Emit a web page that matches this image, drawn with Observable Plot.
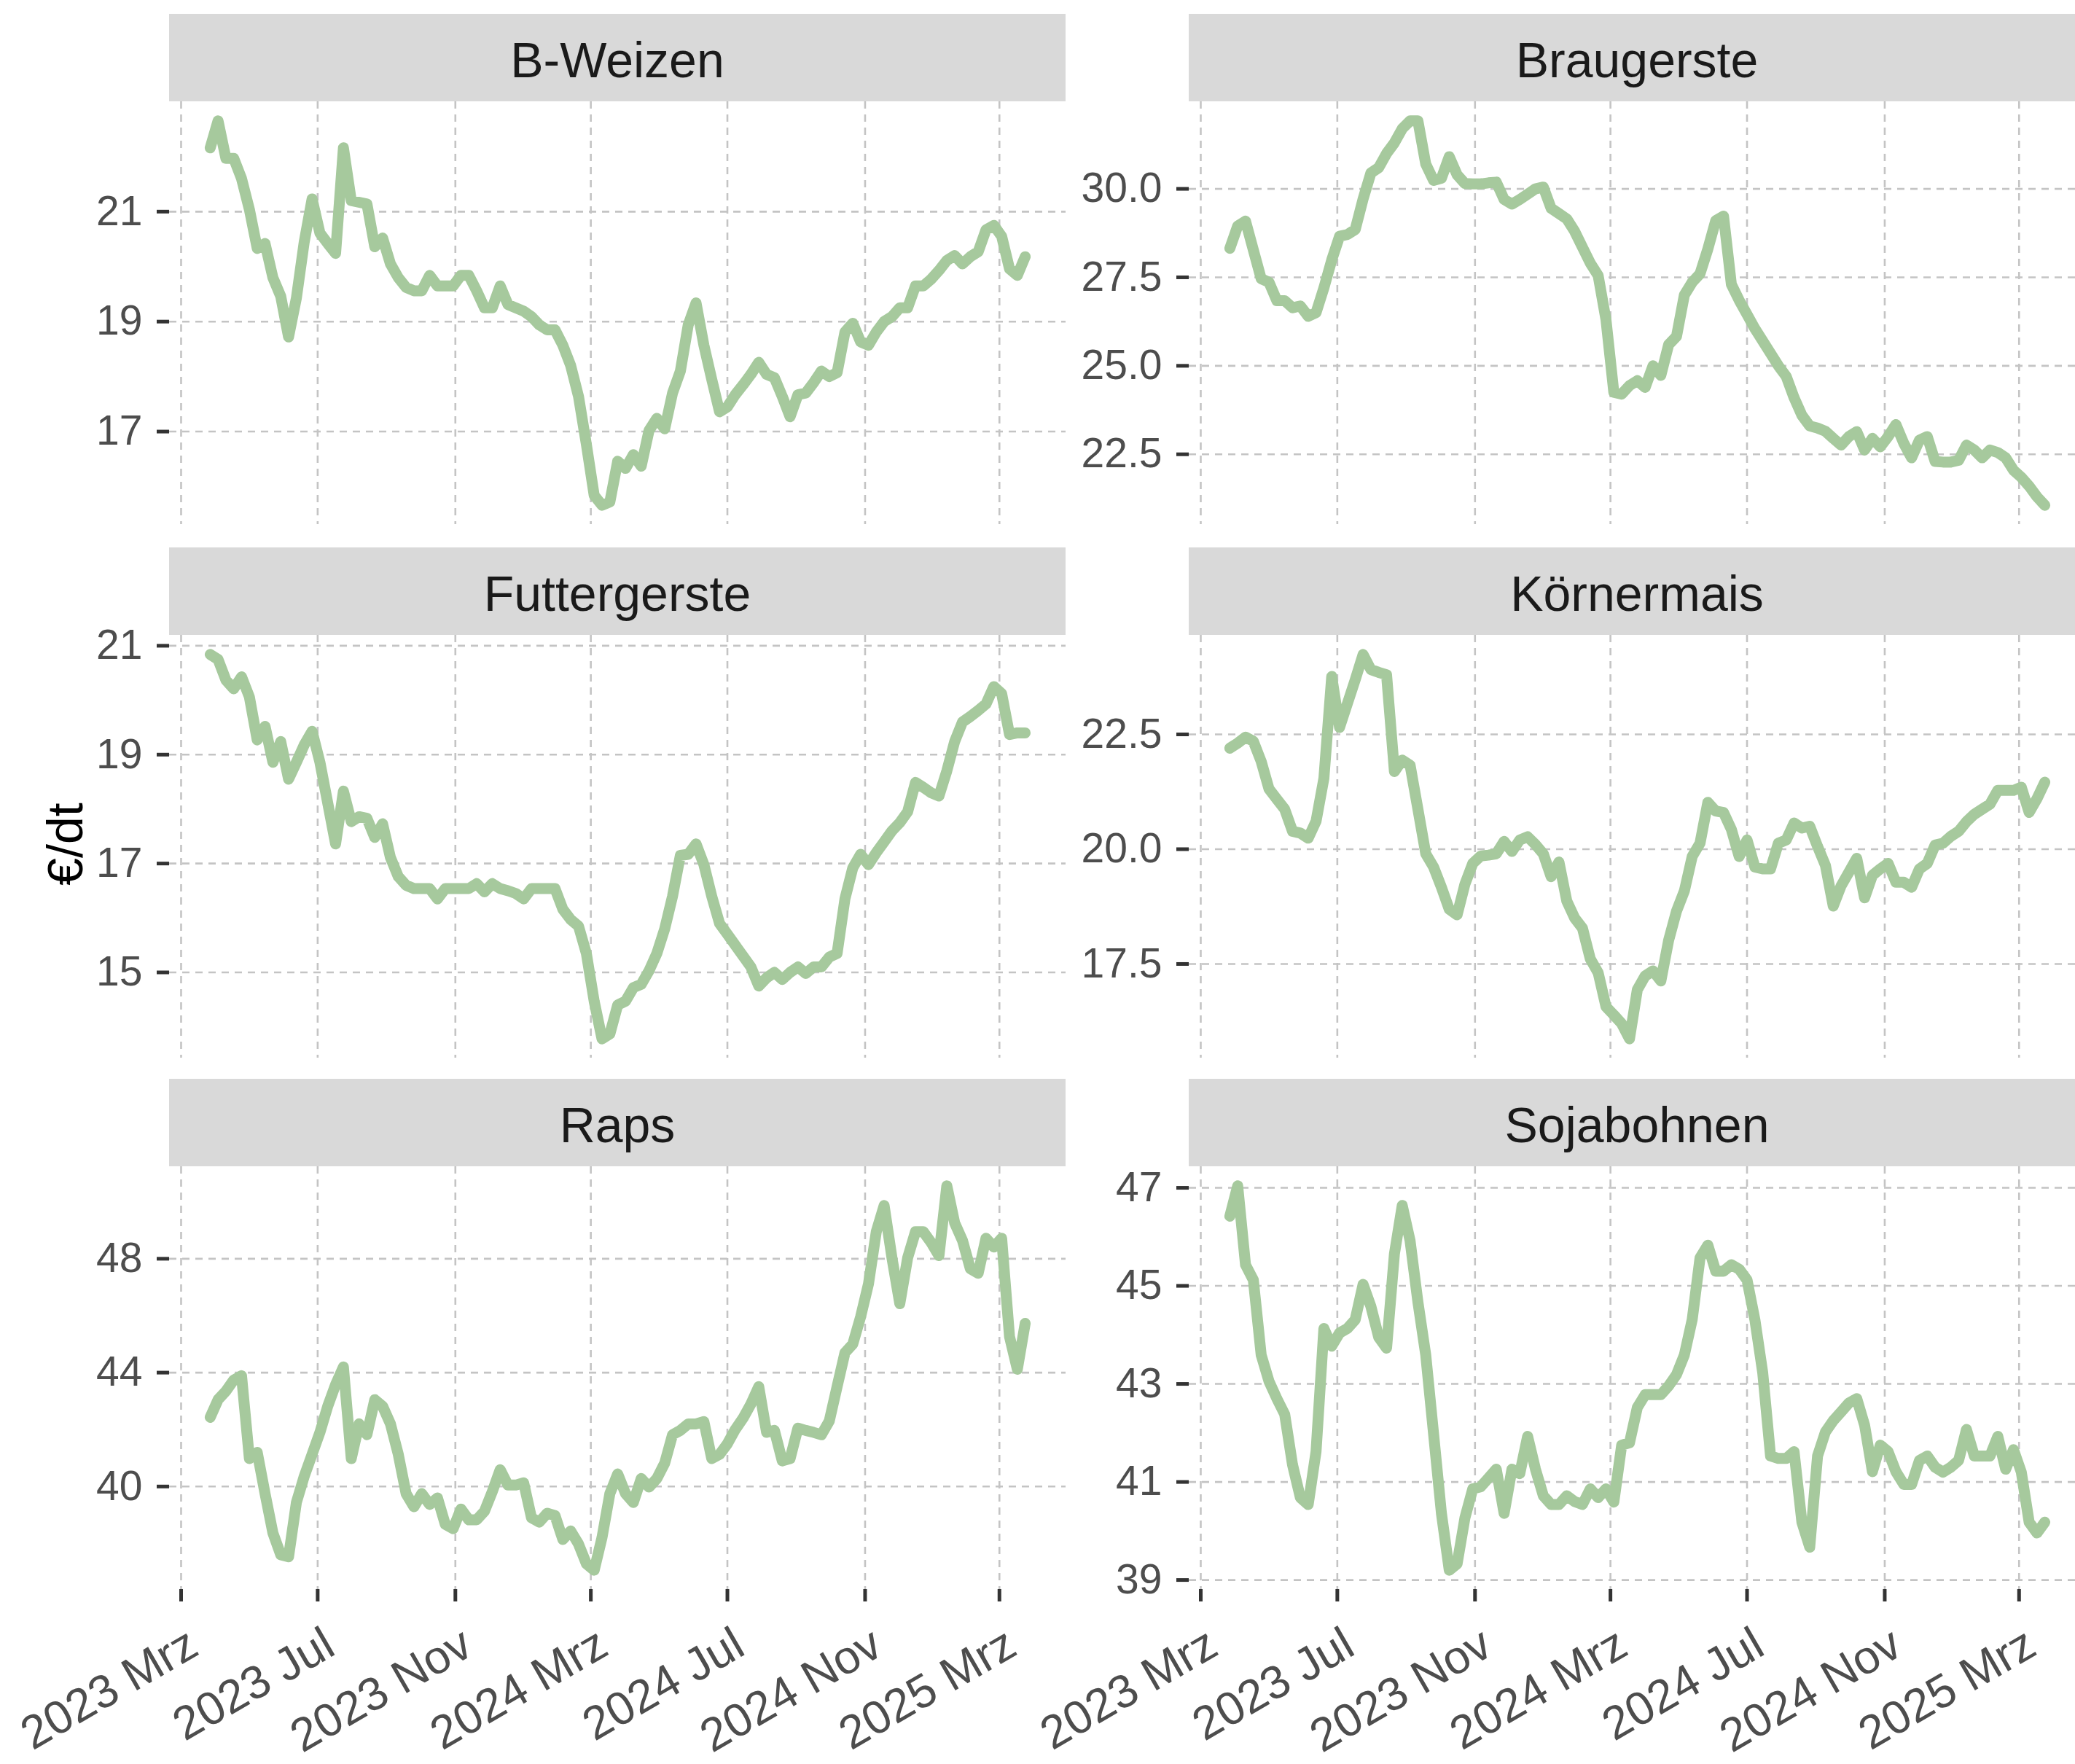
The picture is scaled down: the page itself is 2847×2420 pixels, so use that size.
<!DOCTYPE html>
<html>
<head>
<meta charset="utf-8">
<script src="https://cdn.jsdelivr.net/npm/d3@7"></script>
<script src="https://cdn.jsdelivr.net/npm/@observablehq/plot@0.6"></script>
<style>
  html, body { margin: 0; padding: 0; background: #ffffff; width: 2847px; height: 2420px; overflow: hidden; }
  #root { position: relative; width: 2847px; height: 2420px; font-family: "Liberation Sans", Arial, sans-serif; }
  .strip { position: absolute; background: #d9d9d9; color: #1a1a1a; font-size: 68px;
           display: flex; align-items: center; justify-content: center; padding-top: 6px; box-sizing: border-box; }
  .panel { position: absolute; }
  .panel svg { overflow: visible; max-width: none; display: block; }
  #ylab { position: absolute; font-size: 68px; color: #000; white-space: nowrap;
          transform: translate(-50%, -50%) rotate(-90deg); }
</style>
</head>
<body>
<div id="root"></div>
<script>
// ---- Data (weekly quotations, €/dt) ----
const weeks = [
  "2023-03-27","2023-04-03","2023-04-10","2023-04-17","2023-04-24","2023-05-01","2023-05-08","2023-05-15","2023-05-22","2023-05-29",
  "2023-06-05","2023-06-12","2023-06-19","2023-06-26","2023-07-03","2023-07-10","2023-07-17","2023-07-24","2023-07-31","2023-08-07",
  "2023-08-14","2023-08-21","2023-08-28","2023-09-04","2023-09-11","2023-09-18","2023-09-25","2023-10-02","2023-10-09","2023-10-16",
  "2023-10-23","2023-10-30","2023-11-06","2023-11-13","2023-11-20","2023-11-27","2023-12-04","2023-12-11","2023-12-18","2023-12-25",
  "2024-01-01","2024-01-08","2024-01-15","2024-01-22","2024-01-29","2024-02-05","2024-02-12","2024-02-19","2024-02-26","2024-03-04",
  "2024-03-11","2024-03-18","2024-03-25","2024-04-01","2024-04-08","2024-04-15","2024-04-22","2024-04-29","2024-05-06","2024-05-13",
  "2024-05-20","2024-05-27","2024-06-03","2024-06-10","2024-06-17","2024-06-24","2024-07-01","2024-07-08","2024-07-15","2024-07-22",
  "2024-07-29","2024-08-05","2024-08-12","2024-08-19","2024-08-26","2024-09-02","2024-09-09","2024-09-16","2024-09-23","2024-09-30",
  "2024-10-07","2024-10-14","2024-10-21","2024-10-28","2024-11-04","2024-11-11","2024-11-18","2024-11-25","2024-12-02","2024-12-09",
  "2024-12-16","2024-12-23","2024-12-30","2025-01-06","2025-01-13","2025-01-20","2025-01-27","2025-02-03","2025-02-10","2025-02-17",
  "2025-02-24","2025-03-03","2025-03-10","2025-03-17","2025-03-24"
];

const bWeizen = [
  22.16, 22.65, 21.97, 21.97, 21.6, 21.04, 20.33, 20.42, 19.8, 19.46,
  18.72, 19.43, 20.45, 21.23, 20.61, 20.42, 20.24, 22.16, 21.2, 21.17,
  21.14, 20.36, 20.52, 20.05, 19.8, 19.62, 19.56, 19.56, 19.84, 19.65,
  19.65, 19.65, 19.84, 19.84, 19.56, 19.25, 19.25, 19.65, 19.31, 19.25,
  19.19, 19.09, 18.94, 18.85, 18.85, 18.57, 18.2, 17.64, 16.77, 15.84,
  15.66, 15.72, 16.46, 16.33, 16.58, 16.37, 17.02, 17.24, 17.05, 17.7,
  18.1, 18.94, 19.34, 18.57, 17.95, 17.36, 17.45, 17.67, 17.85, 18.04,
  18.26, 18.04, 17.98, 17.64, 17.27, 17.67, 17.7, 17.89, 18.1, 18.0,
  18.07, 18.81, 18.97, 18.63, 18.57, 18.81, 19.0, 19.09, 19.25, 19.25,
  19.65, 19.65, 19.77, 19.93, 20.11, 20.2, 20.05, 20.18, 20.27, 20.67,
  20.75, 20.55, 19.96, 19.84, 20.18
];

const braugerste = [
  28.32, 28.95, 29.09, 28.27, 27.46, 27.36, 26.84, 26.84, 26.64, 26.69,
  26.4, 26.5, 27.2, 27.99, 28.66, 28.71, 28.85, 29.71, 30.45, 30.6,
  31.0, 31.3, 31.7, 31.92, 31.92, 30.7, 30.24, 30.3, 30.91, 30.4,
  30.15, 30.14, 30.14, 30.17, 30.19, 29.7, 29.57, 29.7, 29.85, 30.0,
  30.05, 29.45, 29.3, 29.15, 28.8, 28.35, 27.9, 27.55, 26.3, 24.25,
  24.2, 24.44, 24.58, 24.39, 25.0, 24.73, 25.6, 25.83, 27.0, 27.36,
  27.6, 28.3, 29.1, 29.23, 27.3, 26.85, 26.45, 26.05, 25.7, 25.35,
  25.0, 24.7, 24.1, 23.6, 23.3, 23.24, 23.15, 22.95, 22.76, 23.0,
  23.14, 22.62, 22.95, 22.71, 23.0, 23.34, 22.81, 22.4, 22.9, 23.0,
  22.3, 22.28, 22.28, 22.33, 22.76, 22.62, 22.4, 22.62, 22.55, 22.4,
  22.05, 21.85, 21.6, 21.3, 21.06
];

const futtergerste = [
  20.84, 20.75, 20.37, 20.21, 20.43, 20.06, 19.27, 19.52, 18.86, 19.24,
  18.55, 18.86, 19.18, 19.43, 18.86, 18.11, 17.36, 18.33, 17.77, 17.86,
  17.83, 17.48, 17.73, 17.11, 16.76, 16.6, 16.54, 16.54, 16.54, 16.35,
  16.54, 16.54, 16.54, 16.54, 16.63, 16.48, 16.63, 16.54, 16.5, 16.45,
  16.35, 16.54, 16.54, 16.54, 16.54, 16.16, 15.97, 15.85, 15.35, 14.47,
  13.78, 13.87, 14.4, 14.47, 14.72, 14.78, 15.03, 15.35, 15.8, 16.4,
  17.15, 17.17, 17.36, 16.98, 16.4, 15.9, 15.7, 15.5, 15.3, 15.1,
  14.75, 14.9, 15.0, 14.87, 15.0, 15.1, 14.98, 15.1, 15.1, 15.28,
  15.35, 16.35, 16.92, 17.17, 16.98, 17.2, 17.4, 17.6, 17.75, 17.95,
  18.49, 18.4, 18.3, 18.24, 18.7, 19.24, 19.6, 19.7, 19.81, 19.93,
  20.25, 20.12, 19.37, 19.4, 19.4
];

const koernermais = [
  22.2, 22.31, 22.44, 22.35, 21.91, 21.31, 21.09, 20.87, 20.39, 20.35,
  20.24, 20.61, 21.54, 23.76, 22.65, 23.17, 23.69, 24.24, 23.91, 23.85,
  23.8, 21.69, 21.94, 21.83, 20.87, 19.9, 19.61, 19.17, 18.69, 18.57,
  19.24, 19.69, 19.85, 19.87, 19.9, 20.17, 19.95, 20.2, 20.27, 20.1,
  19.9, 19.4, 19.72, 18.87, 18.5, 18.28, 17.61, 17.31, 16.57, 16.39,
  16.2, 15.87, 16.94, 17.24, 17.35, 17.13, 18.02, 18.65, 19.09, 19.84,
  20.13, 21.02, 20.83, 20.8, 20.43, 19.84, 20.2, 19.61, 19.57, 19.57,
  20.13, 20.2, 20.57, 20.46, 20.5, 20.06, 19.65, 18.76, 19.2, 19.5,
  19.8, 18.94, 19.43, 19.57, 19.69, 19.28, 19.28, 19.17, 19.57, 19.69,
  20.09, 20.13, 20.28, 20.39, 20.6, 20.76, 20.87, 20.98, 21.28, 21.28,
  21.28, 21.35, 20.8, 21.1, 21.46
];

const raps = [
  42.43, 43.05, 43.35, 43.74, 43.89, 40.98, 41.2, 39.75, 38.37, 37.6,
  37.53, 39.44, 40.36, 41.13, 41.9, 42.82, 43.58, 44.2, 40.98, 42.2,
  41.82, 43.05, 42.82, 42.2, 41.13, 39.75, 39.29, 39.75, 39.37, 39.6,
  38.67, 38.52, 39.21, 38.83, 38.83, 39.13, 39.82, 40.59, 40.05, 40.05,
  40.13, 38.9, 38.75, 39.06, 38.98, 38.14, 38.44, 37.98, 37.29, 37.06,
  38.21, 39.75, 40.44, 39.75, 39.44, 40.28, 39.98, 40.28, 40.82, 41.82,
  41.97, 42.2, 42.2, 42.28, 40.98, 41.13, 41.5, 42.0, 42.4, 42.9,
  43.51, 41.9, 41.97, 40.9, 40.98, 42.05, 41.97, 41.9, 41.82, 42.3,
  43.51, 44.7, 45.0, 45.96, 47.11, 48.95, 49.87, 48.03, 46.42, 48.03,
  48.95, 48.95, 48.57, 48.11, 50.56, 49.26, 48.64, 47.65, 47.49, 48.72,
  48.41, 48.72, 45.27, 44.12, 45.73
];

const sojabohnen = [
  46.42, 47.04, 45.43, 45.12, 43.59, 43.05, 42.7, 42.38, 41.35, 40.68,
  40.54, 41.62, 44.13, 43.77, 44.04, 44.13, 44.31, 45.03, 44.58, 43.95,
  43.73, 45.65, 46.64, 45.92, 44.67, 43.59, 41.98, 40.36, 39.2, 39.33,
  40.27, 40.86, 40.9, 41.08, 41.26, 40.36, 41.26, 41.17, 41.93, 41.26,
  40.72, 40.54, 40.54, 40.72, 40.6, 40.54, 40.86, 40.68, 40.86, 40.59,
  41.75, 41.8, 42.52, 42.78, 42.78, 42.78, 42.96, 43.19, 43.59, 44.31,
  45.57, 45.83, 45.3, 45.3, 45.43, 45.34, 45.12, 44.31, 43.23, 41.53,
  41.48, 41.48, 41.62, 40.18, 39.67, 41.53, 42.02, 42.25, 42.43, 42.61,
  42.7, 42.16, 41.21, 41.75, 41.62, 41.21, 40.95, 40.95, 41.44, 41.53,
  41.3, 41.2, 41.3, 41.44, 42.07, 41.53, 41.53, 41.53, 41.93, 41.26,
  41.66, 41.2, 40.18, 39.96, 40.18
];

// ---- Facet titles and axis ticks ----
const panelTitles = ["B-Weizen", "Braugerste", "Futtergerste", "Körnermais", "Raps", "Sojabohnen"];
const bWeizenTicks = [17, 19, 21];
const braugersteTicks = [22.5, 25.0, 27.5, 30.0];
const futtergersteTicks = [15, 17, 19, 21];
const koernermaisTicks = [17.5, 20.0, 22.5];
const rapsTicks = [40, 44, 48];
const sojabohnenTicks = [39, 41, 43, 45, 47];
const xTickDates = ["2023-03-01", "2023-07-01", "2023-11-01", "2024-03-01", "2024-07-01", "2024-11-01", "2025-03-01"];
const xTickLabels = ["2023 Mrz", "2023 Jul", "2023 Nov", "2024 Mrz", "2024 Jul", "2024 Nov", "2025 Mrz"];
const yAxisTitle = "€/dt";

// ---- Layout ----
const FONT = "Liberation Sans, Arial, sans-serif";
const colLeft = [232, 1631];
const rowTop = [139, 871, 1600];
const panelW = 1230, panelH = 580, stripH = 120, marginL = 232, marginB = 240;
const lineColor = "#a6c99d";
const gridStyle = { stroke: "#c4c4c4", strokeOpacity: 1, strokeWidth: 2.6, strokeDasharray: "10,8" };

const panels = [
  { title: panelTitles[0], values: bWeizen,      ticks: bWeizenTicks,      fmt: d3.format("d"),   col: 0, row: 0 },
  { title: panelTitles[1], values: braugerste,   ticks: braugersteTicks,   fmt: d3.format(".1f"), col: 1, row: 0 },
  { title: panelTitles[2], values: futtergerste, ticks: futtergersteTicks, fmt: d3.format("d"),   col: 0, row: 1 },
  { title: panelTitles[3], values: koernermais,  ticks: koernermaisTicks,  fmt: d3.format(".1f"), col: 1, row: 1 },
  { title: panelTitles[4], values: raps,         ticks: rapsTicks,         fmt: d3.format("d"),   col: 0, row: 2 },
  { title: panelTitles[5], values: sojabohnen,   ticks: sojabohnenTicks,   fmt: d3.format("d"),   col: 1, row: 2 }
];

const dates = weeks.map(d => new Date(d));
const xTicks = xTickDates.map(d => new Date(d));
const [x0, x1] = d3.extent(dates);
const xPad = (x1 - x0) * 0.05;
const xDomain = [new Date(+x0 - xPad), new Date(+x1 + xPad)];

const root = document.getElementById("root");

for (const p of panels) {
  const left = colLeft[p.col], top = rowTop[p.row];
  const bottomRow = p.row === 2;

  // facet strip
  const strip = document.createElement("div");
  strip.className = "strip";
  strip.style.left = left + "px";
  strip.style.top = (top - stripH) + "px";
  strip.style.width = panelW + "px";
  strip.style.height = stripH + "px";
  strip.textContent = p.title;
  root.appendChild(strip);

  const data = dates.map((d, i) => ({ date: d, value: p.values[i] }));
  const [lo, hi] = d3.extent(p.values);
  const yPad = (hi - lo) * 0.05;

  const marks = [
    Plot.gridY(p.ticks, gridStyle),
    Plot.gridX(xTicks, gridStyle),
    Plot.axisY(p.ticks, {
      tickSize: 17, tickPadding: 20, tickFormat: p.fmt, fontSize: 57,
      fill: "#4d4d4d", stroke: "#333333", strokeWidth: 5, label: null
    }),
    Plot.line(data, { x: "date", y: "value", stroke: lineColor, strokeWidth: 15, strokeLinejoin: "round" })
  ];
  if (bottomRow) {
    marks.push(Plot.axisX(xTicks, {
      tickSize: 17, tickFormat: () => "", stroke: "#333333", strokeWidth: 5, label: null
    }));
    marks.push(Plot.text(xTicks, {
      x: d => d, text: (d, i) => xTickLabels[i], frameAnchor: "bottom",
      rotate: -30, textAnchor: "end", lineAnchor: "middle",
      dx: 17, dy: 70, fontSize: 64, fill: "#4d4d4d"
    }));
  }

  const chart = Plot.plot({
    width: marginL + panelW,
    height: panelH + (bottomRow ? marginB : 0),
    marginLeft: marginL, marginRight: 0, marginTop: 0,
    marginBottom: bottomRow ? marginB : 0,
    style: { fontFamily: FONT, overflow: "visible", background: "transparent", maxWidth: "none" },
    x: { type: "utc", domain: xDomain, axis: null },
    y: { domain: [lo - yPad, hi + yPad], axis: null },
    marks
  });

  const holder = document.createElement("div");
  holder.className = "panel";
  holder.style.left = (left - marginL) + "px";
  holder.style.top = top + "px";
  holder.appendChild(chart);
  root.appendChild(holder);
}

// shared y-axis title
const ylab = document.createElement("div");
ylab.id = "ylab";
ylab.textContent = yAxisTitle;
ylab.style.left = "89px";
ylab.style.top = "1158px";
root.appendChild(ylab);
</script>
</body>
</html>
